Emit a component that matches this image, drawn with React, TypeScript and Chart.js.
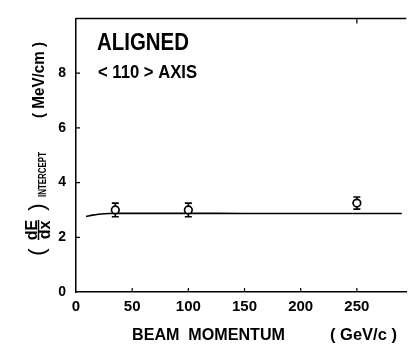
import React, { useEffect, useRef } from "react";
import { Chart, registerables } from "chart.js";

Chart.register(...registerables);

// Measured points: beam momentum (GeV/c) and intercept (MeV/cm)
const pointMomentum = [35, 100, 250];
const pointIntercept = [3.0, 3.0, 3.25];
const pointError = [0.25, 0.25, 0.22];

// Theory curve
const curveMomentum = [9, 15, 20, 25, 30, 40, 50, 75, 100, 150, 200, 250, 290];
const curveIntercept = [2.76, 2.81, 2.84, 2.86, 2.87, 2.875, 2.875, 2.875, 2.875, 2.87, 2.87, 2.87, 2.87];

const xTickValues = [0, 50, 100, 150, 200, 250];
const yTickValues = [0, 2, 4, 6, 8];
const topTickValues = [250];

const FONT = "'Liberation Sans', Arial, sans-serif";

const decorPlugin = {
  id: "decor",
  beforeDatasetsDraw(chart: any) {
    const { ctx, scales } = chart;
    const x = scales.x;
    const y = scales.y;
    ctx.save();
    ctx.strokeStyle = "#000";
    ctx.lineWidth = 1.6;
    for (let i = 0; i < pointMomentum.length; i++) {
      const px = x.getPixelForValue(pointMomentum[i]);
      const top = y.getPixelForValue(pointIntercept[i] + pointError[i]);
      const bot = y.getPixelForValue(pointIntercept[i] - pointError[i]);
      ctx.beginPath();
      ctx.moveTo(px, top);
      ctx.lineTo(px, bot);
      ctx.moveTo(px - 3.5, top);
      ctx.lineTo(px + 3.5, top);
      ctx.moveTo(px - 3.5, bot);
      ctx.lineTo(px + 3.5, bot);
      ctx.stroke();
    }
    ctx.restore();
  },
  afterDraw(chart: any) {
    const { ctx, scales, chartArea } = chart;
    const x = scales.x;
    const y = scales.y;
    ctx.save();
    ctx.strokeStyle = "#000";
    ctx.fillStyle = "#000";
    ctx.lineWidth = 1.5;
    // top frame line
    ctx.beginPath();
    ctx.moveTo(chartArea.left, chartArea.top);
    ctx.lineTo(chartArea.right, chartArea.top);
    ctx.stroke();
    // inward ticks
    ctx.lineWidth = 1.2;
    ctx.beginPath();
    yTickValues.forEach((v) => {
      if (v === 0) return;
      const py = y.getPixelForValue(v);
      ctx.moveTo(chartArea.left, py);
      ctx.lineTo(chartArea.left + 4, py);
    });
    xTickValues.forEach((v) => {
      if (v === 0) return;
      const px = x.getPixelForValue(v);
      ctx.moveTo(px, chartArea.bottom);
      ctx.lineTo(px, chartArea.bottom - 4);
    });
    topTickValues.forEach((v) => {
      const px = x.getPixelForValue(v);
      ctx.moveTo(px, chartArea.top);
      ctx.lineTo(px, chartArea.top + 5);
    });
    ctx.stroke();

    // annotations inside plot
    ctx.textBaseline = "alphabetic";
    ctx.textAlign = "left";
    ctx.font = `bold 23px ${FONT}`;
    ctx.fillText("ALIGNED", chartArea.left + 21, 50, 92);
    ctx.font = `bold 18px ${FONT}`;
    ctx.fillText("< 110 > AXIS", chartArea.left + 22, 78, 99);

    // x axis title
    ctx.font = `bold 16.5px ${FONT}`;
    ctx.fillText("BEAM  MOMENTUM", 132, 340, 153);
    ctx.fillText("( GeV/c )", 330, 340, 67);

    // y axis title (rotated): screen x = 40 + y', screen y = -x'
    ctx.save();
    ctx.translate(40, 0);
    ctx.rotate(-Math.PI / 2);
    ctx.font = `bold 17px ${FONT}`;
    ctx.textAlign = "center";
    ctx.textBaseline = "middle";
    ctx.fillText("( MeV/cm )", -80, -1, 76);
    // parentheses around fraction
    ctx.font = `22px ${FONT}`;
    ctx.fillText("(", -252, -2);
    ctx.fillText(")", -207, -2);
    // fraction
    ctx.textBaseline = "alphabetic";
    ctx.font = `bold 16px ${FONT}`;
    ctx.fillText("dE", -230, -3);
    ctx.fillText("dx", -230, 10);
    ctx.lineWidth = 1.5;
    ctx.beginPath();
    ctx.moveTo(-240, -1.5);
    ctx.lineTo(-220, -1.5);
    ctx.stroke();
    // subscript
    ctx.font = `bold 10.5px ${FONT}`;
    ctx.textAlign = "left";
    ctx.textBaseline = "middle";
    ctx.fillText("INTERCEPT", -197, 3.5, 45);
    ctx.restore();

    ctx.restore();
  },
};

export default function App() {
  const canvasRef = useRef<HTMLCanvasElement | null>(null);

  useEffect(() => {
    const canvas = canvasRef.current;
    if (!canvas) return;
    const chart = new Chart(canvas, {
      type: "scatter",
      data: {
        datasets: [
          {
            type: "line",
            label: "curve",
            data: curveMomentum.map((m, i) => ({ x: m, y: curveIntercept[i] })),
            borderColor: "#000",
            borderWidth: 1.6,
            pointRadius: 0,
            fill: false,
            cubicInterpolationMode: "monotone",
            order: 2,
          } as any,
          {
            label: "data",
            data: pointMomentum.map((m, i) => ({ x: m, y: pointIntercept[i] })),
            pointRadius: 3.8,
            pointBorderWidth: 1.7,
            pointBackgroundColor: "#fff",
            pointBorderColor: "#000",
            order: 1,
          },
        ],
      },
      options: {
        responsive: false,
        animation: false,
        devicePixelRatio: 1,
        layout: { padding: { top: 5, right: 0, left: 0, bottom: 0 } },
        plugins: {
          legend: { display: false },
          tooltip: { enabled: false },
        },
        scales: {
          x: {
            type: "linear",
            min: 0,
            max: 294,
            afterFit: (s: any) => {
              s.height = 55;
            },
            afterBuildTicks: (s: any) => {
              s.ticks = xTickValues.map((v) => ({ value: v }));
            },
            ticks: {
              color: "#000",
              padding: 6,
              font: { family: FONT, size: 15, weight: "bold" },
            },
            grid: { display: false, drawTicks: false },
            border: { display: true, color: "#000", width: 1.5 },
          },
          y: {
            type: "linear",
            min: 0,
            max: 10,
            afterFit: (s: any) => {
              s.width = 76;
            },
            afterBuildTicks: (s: any) => {
              s.ticks = yTickValues.map((v) => ({ value: v }));
            },
            ticks: {
              color: "#000",
              padding: 10,
              font: { family: FONT, size: 14, weight: "bold" },
            },
            grid: { display: false, drawTicks: false },
            border: { display: true, color: "#000", width: 1.5 },
          },
        },
      },
      plugins: [decorPlugin],
    });
    return () => chart.destroy();
  }, []);

  return (
    <div style={{ position: "absolute", left: 0, top: 0, width: 412, height: 347, background: "#fff" }}>
      <canvas ref={canvasRef} width={412} height={347} />
    </div>
  );
}
